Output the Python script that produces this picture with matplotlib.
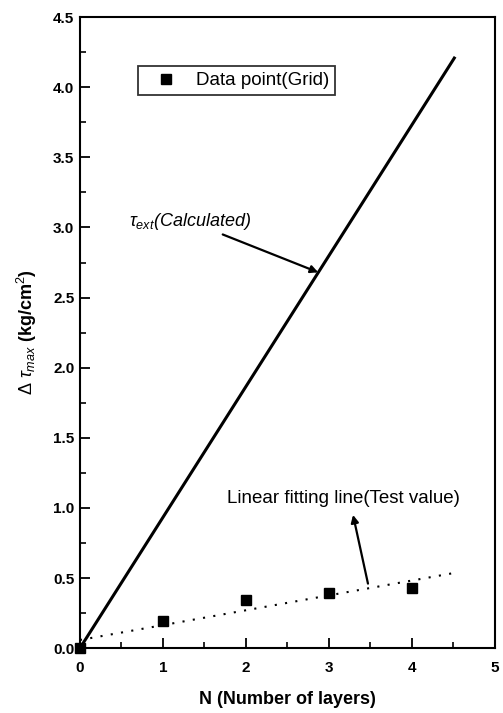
import numpy as np
import matplotlib
matplotlib.use("Agg")
import matplotlib.pyplot as plt
from matplotlib.ticker import MultipleLocator, FormatStrFormatter

# ── Data ──────────────────────────────────────────────────────────────────────
layers = [0, 1, 2, 3, 4]
delta_tau = [0.0, 0.19, 0.34, 0.39, 0.43]

calc_x = [0.0, 4.52]
calc_slope = 0.933

fit_x = [0.0, 4.52]

plt.rcParams["font.family"] = ["Liberation Sans", "DejaVu Sans"]
plt.rcParams["mathtext.fontset"] = "custom"
plt.rcParams["mathtext.rm"] = "Liberation Sans"
plt.rcParams["mathtext.it"] = "Liberation Sans:italic"
plt.rcParams["mathtext.bf"] = "Liberation Sans:bold"

fig = plt.figure(figsize=(5.03, 7.13), dpi=100)
ax = fig.add_axes([0.159, 0.091, 0.825, 0.885])

# calculated line
calc_y = [calc_slope * x for x in calc_x]
ax.plot(calc_x, calc_y, color="black", lw=2.2, solid_capstyle="butt")

# linear fit of test values
coef = np.polyfit(layers, delta_tau, 1)
ax.plot(fit_x, np.polyval(coef, fit_x), color="black", lw=1.5,
        linestyle=(0, (1, 4)))

ax.plot(layers, delta_tau, "s", color="black", ms=7, clip_on=False, zorder=5,
        label="Data point(Grid)")

ax.set_xlim(0, 5)
ax.set_ylim(0, 4.5)
ax.xaxis.set_major_locator(MultipleLocator(1))
ax.xaxis.set_minor_locator(MultipleLocator(0.5))
ax.yaxis.set_major_locator(MultipleLocator(0.5))
ax.yaxis.set_minor_locator(MultipleLocator(0.25))
ax.yaxis.set_major_formatter(FormatStrFormatter("%.1f"))
ax.tick_params(which="both", direction="in", top=False, right=False)
ax.tick_params(which="major", length=7, width=1.3, labelsize=11, pad=4)
ax.tick_params(axis="x", which="major", pad=9)
ax.tick_params(which="minor", length=4, width=1.2)
for lbl in ax.get_xticklabels() + ax.get_yticklabels():
    lbl.set_fontweight("bold")
for sp in ax.spines.values():
    sp.set_linewidth(1.5)

ax.set_xlabel("N (Number of layers)", fontsize=13, fontweight="bold", labelpad=12)
ax.set_ylabel(r"$\Delta\ \tau_{max}$ (kg/cm$^2$)", fontsize=13, fontweight="bold",
              labelpad=10)

leg = ax.legend(loc="upper left", bbox_to_anchor=(0.139, 0.922), fontsize=13.5,
                frameon=True, fancybox=False, edgecolor="black",
                handlelength=2.4, handletextpad=0.4, borderpad=0.3,
                borderaxespad=0)
leg.get_frame().set_linewidth(1.3)

arrow_kw = dict(arrowstyle="-|>", color="black", lw=1.6,
                shrinkA=0, shrinkB=0, mutation_scale=11)

ax.text(1.33, 3.04, r"$\tau_{ext}$" + "(Calculated)", fontsize=13,
        ha="center", va="center", style="italic")
ax.annotate("", xy=(2.87, 2.68), xytext=(1.72, 2.95), arrowprops=arrow_kw)

ax.text(3.17, 1.07, "Linear fitting line(Test value)", fontsize=13.5,
        ha="center", va="center")
ax.annotate("", xy=(3.29, 0.95), xytext=(3.47, 0.46), arrowprops=arrow_kw)

fig.savefig("out.png", dpi=100)
